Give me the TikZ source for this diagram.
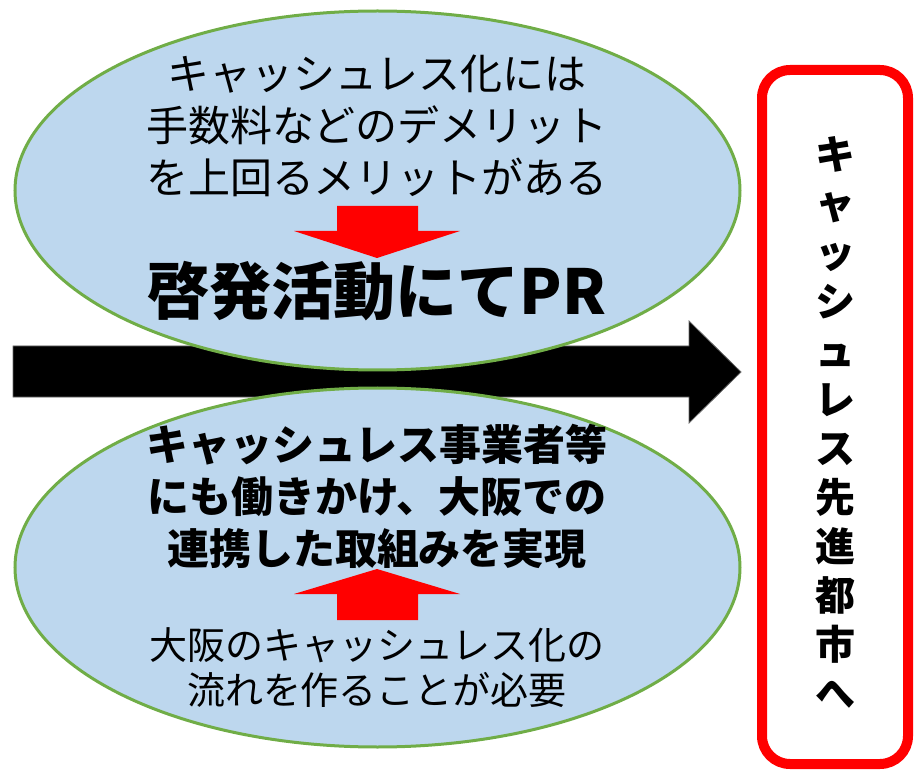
\documentclass[tikz,border=0pt]{standalone}
\usepackage{fontspec}
\usetikzlibrary{shapes.geometric}
\newfontfamily\jp{Noto Sans CJK JP}
\definecolor{ellfill}{HTML}{BDD7EE}
\definecolor{ellline}{HTML}{70AD47}
\definecolor{redc}{HTML}{FF0000}
\tikzset{
  ellbox/.style={draw=ellline, line width=3pt, fill=ellfill},
  redarrow/.style={fill=redc, draw=none},
  bigarrow/.style={fill=black, draw=black!60, line width=0.8pt},
  normtxt/.style={font=\jp\fontsize{42}{52}\selectfont, align=center, inner sep=0pt},
  boldtxt/.style={font=\jp\bfseries\fontsize{42}{52}\selectfont, align=center, inner sep=0pt},
}
\begin{document}
\begin{tikzpicture}[x=1pt,y=-1pt]
\useasboundingbox (0,0) rectangle (914,770);
% big black arrow
\fill[bigarrow] (13,346) -- (689,346) -- (689,321) -- (741,372) -- (689,423) -- (689,397) -- (13,397) -- cycle;
% ellipses
\node[ellbox, ellipse, minimum width=725pt, minimum height=359pt, inner sep=0pt] (top) at (377.5,190.5) {};
\node[ellbox, ellipse, minimum width=725pt, minimum height=359pt, inner sep=0pt] (bot) at (377.5,567.5) {};
% red arrows
\fill[redarrow] (337,206) -- (418,206) -- (418,231) -- (460,231) -- (377,258) -- (294,231) -- (337,231) -- cycle;
\fill[redarrow] (377,569) -- (460,594) -- (418,594) -- (418,620) -- (337,620) -- (337,594) -- (294,594) -- cycle;
% texts
\node[normtxt] (t1) at (377,126) {キャッシュレス化には\\手数料などのデメリット\\を上回るメリットがある};
\node[inner sep=0pt, font=\jp\bfseries\fontsize{62}{66}\selectfont] (t2) at (377,291) {啓発活動にてPR};
\node[boldtxt] (t3) at (377,496) {キャッシュレス事業者等\\にも働きかけ、大阪での\\連携した取組みを実現};
\node[inner sep=0pt, align=center, font=\jp\fontsize{38}{45}\selectfont] (t4) at (377,668) {大阪のキャッシュレス化の\\流れを作ることが必要};
% right box
\draw[redc, line width=10pt, rounded corners=28pt] (762,70) rectangle (908,764);
\node[inner sep=0pt, align=center, font=\jp\bfseries\fontsize{40}{49}\selectfont] (v) at (835,422)
  {キ\\ャ\\ッ\\シ\\ュ\\レ\\ス\\先\\進\\都\\市\\へ};
\end{tikzpicture}
\end{document}
